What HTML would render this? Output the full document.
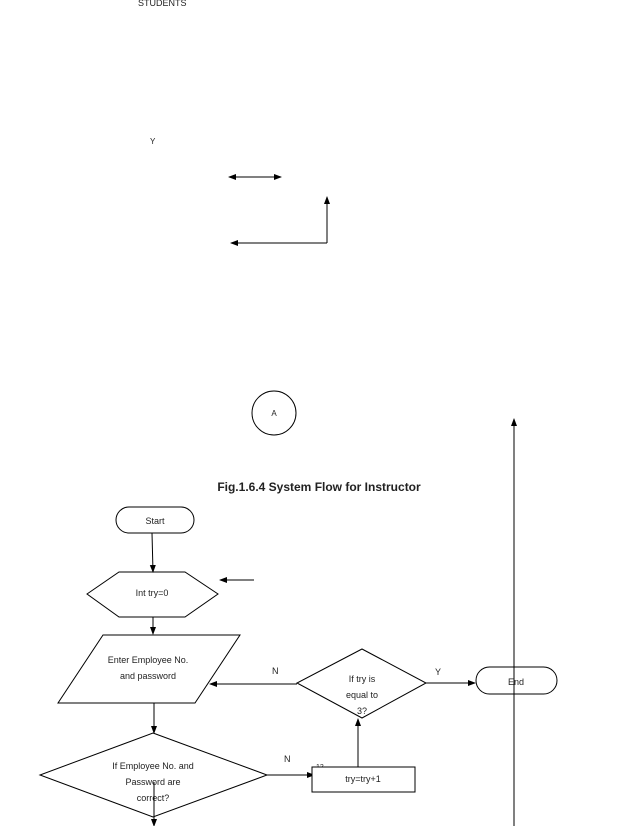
<!DOCTYPE html>
<html><head><meta charset="utf-8"><style>
html,body{margin:0;padding:0;background:#fff;}
svg{display:block;}
text{font-family:"Liberation Sans",sans-serif;font-size:9px;fill:#222;}
</style></head><body>
<svg width="638" height="826" viewBox="0 0 638 826" xmlns="http://www.w3.org/2000/svg">
<defs><marker id="a" markerWidth="8" markerHeight="8" refX="7" refY="4" orient="auto" markerUnits="userSpaceOnUse"><path d="M0,1 L8,4 L0,7 Z" fill="#000"/></marker>
<marker id="s" markerWidth="8" markerHeight="8" refX="1" refY="4" orient="auto" markerUnits="userSpaceOnUse"><path d="M8,1 L0,4 L8,7 Z" fill="#000"/></marker></defs>
<g stroke="#000" stroke-width="1" fill="none">
<text x="138" y="6" stroke="none">STUDENTS</text>
<text x="150" y="144" stroke="none" style="font-size:8px">Y</text>
<line x1="229" y1="177" x2="281" y2="177" marker-end="url(#a)" marker-start="url(#s)"/>
<polyline points="327,243 327,197"  marker-end="url(#a)"/>
<line x1="327" y1="243" x2="231" y2="243" marker-end="url(#a)"/>
<circle cx="274" cy="413" r="22"/>
<text x="274" y="416" stroke="none" text-anchor="middle" style="font-size:8px">A</text>
<line x1="514" y1="826" x2="514" y2="419" marker-end="url(#a)"/>
<text x="319" y="491" stroke="none" text-anchor="middle" style="font-size:12px;font-weight:bold">Fig.1.6.4 System Flow for Instructor</text>
<rect x="116" y="507" width="78" height="26" rx="13"/>
<text x="155" y="524" stroke="none" text-anchor="middle">Start</text>
<line x1="152" y1="533" x2="153" y2="572" marker-end="url(#a)"/>
<line x1="254" y1="580" x2="220" y2="580" marker-end="url(#a)"/>
<polygon points="87,594 119,572 185,572 218,594 185,617 119,617"/>
<text x="152" y="596" stroke="none" text-anchor="middle">Int try=0</text>
<line x1="153" y1="617" x2="153" y2="634" marker-end="url(#a)"/>
<polygon points="103,635 240,635 195,703 58,703"/>
<text x="148" y="663" stroke="none" text-anchor="middle">Enter Employee No.</text>
<text x="148" y="679" stroke="none" text-anchor="middle">and password</text>
<line x1="154" y1="703" x2="154" y2="733" marker-end="url(#a)"/>
<polygon points="153,733 267,775 153,817 40,775"/>
<text x="153" y="769" stroke="none" text-anchor="middle">If Employee No. and</text>
<text x="153" y="785" stroke="none" text-anchor="middle">Password are</text>
<text x="153" y="801" stroke="none" text-anchor="middle">correct?</text>
<line x1="154" y1="782" x2="154" y2="826" marker-end="url(#a)"/>
<line x1="267" y1="775" x2="314" y2="775" marker-end="url(#a)"/>
<text x="284" y="762" stroke="none">N</text>
<text x="316" y="769" stroke="none" style="font-size:7px">12</text>
<rect x="312" y="767" width="103" height="25" fill="#fff"/>
<text x="363" y="782" stroke="none" text-anchor="middle">try=try+1</text>
<line x1="358" y1="767" x2="358" y2="719" marker-end="url(#a)"/>
<polygon points="362,649 426,683 362,718 297,683"/>
<text x="362" y="682" stroke="none" text-anchor="middle">If try is</text>
<text x="362" y="698" stroke="none" text-anchor="middle">equal to</text>
<text x="362" y="714" stroke="none" text-anchor="middle">3?</text>
<line x1="297" y1="684" x2="210" y2="684" marker-end="url(#a)"/>
<text x="272" y="674" stroke="none">N</text>
<line x1="426" y1="683" x2="475" y2="683" marker-end="url(#a)"/>
<text x="435" y="675" stroke="none">Y</text>
<rect x="476" y="667" width="81" height="27" rx="13.5"/>
<text x="516" y="685" stroke="none" text-anchor="middle">End</text>
</g>
</svg>
</body></html>
